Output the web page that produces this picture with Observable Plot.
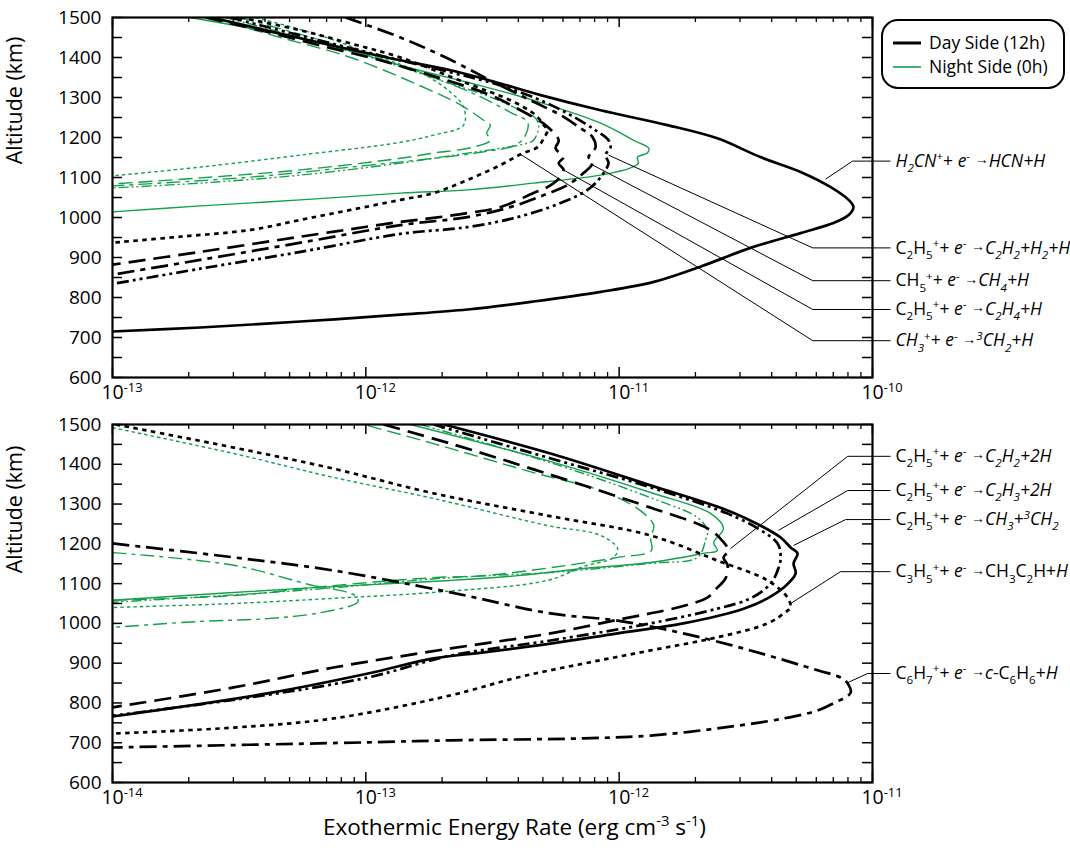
<!DOCTYPE html>
<html><head><meta charset="utf-8">
<script src="https://cdn.jsdelivr.net/npm/d3@7"></script>
<script src="https://cdn.jsdelivr.net/npm/@observablehq/plot@0.6"></script>
<style>
body{margin:0;background:#fff;}
#wrap{position:relative;width:1070px;height:852px;font-family:"Open Sans",sans-serif;}
#wrap svg{display:block;}
#wrap svg text{white-space:pre;}
#legend{position:absolute;left:881px;top:19px;width:184px;height:70px;border:2px solid #000;border-radius:17px;box-sizing:border-box;background:#fff;}
#legend .sw{position:absolute;left:10px;width:28px;}
#legend .lb{position:absolute;left:46px;font-size:17.5px;line-height:22px;color:#000;white-space:nowrap;}
</style></head><body><div id="wrap"></div>
<script>
// ---------- axes ----------
const topXDomain = [1e-13, 1e-10];
const botXDomain = [1e-14, 1e-11];
const altDomain = [600, 1500];
const altLabels = [600, 700, 800, 900, 1000, 1100, 1200, 1300, 1400, 1500];
const altTicks = [600,650,700,750,800,850,900,950,1000,1050,1100,1150,1200,1250,1300,1350,1400,1450,1500];
const topDecades = [1e-13, 1e-12, 1e-11, 1e-10];
const botDecades = [1e-14, 1e-13, 1e-12, 1e-11];
const minorMultipliers = [2, 3, 4, 5, 6, 7, 8, 9];
const legendLabels = ["Day Side (12h)", "Night Side (0h)"];
const yTitle = "Altitude (km)";
const xTitle = "Exothermic Energy Rate (erg cm^{-3} s^{-1})";

// ---------- top panel: day side (rate, altitude) ----------
const topDayH2CN = [[2.46e-13,1500],[5.52e-13,1448],[1.21e-12,1400],[2.16e-12,1368],[3.19e-12,1340],[4.90e-12,1306],[8.45e-12,1268],[1.55e-11,1231],[2.44e-11,1198],[3.61e-11,1151],[5.20e-11,1114],[6.84e-11,1076],[8.05e-11,1044],[8.41e-11,1026],[8.05e-11,1006],[7.01e-11,986],[5.20e-11,961],[3.30e-11,924],[2.09e-11,877],[1.37e-11,839],[8.45e-12,814],[4.59e-12,790],[2.52e-12,770],[1.37e-12,757],[5.52e-13,740],[2.22e-13,725],[1.0e-13,715]];
const topDayC2H2 = [[2.92e-13,1500],[5.52e-13,1455],[1.14e-12,1405],[2.16e-12,1363],[3.40e-12,1330],[4.90e-12,1293],[6.43e-12,1256],[8.07e-12,1218],[9.08e-12,1193],[9.25e-12,1176],[8.83e-12,1156],[9.08e-12,1136],[8.45e-12,1101],[7.50e-12,1069],[5.87e-12,1036],[3.97e-12,1001],[2.52e-12,976],[1.37e-12,959],[5.52e-13,914],[2.22e-13,872],[1.0e-13,834]];
const topDayCH4 = [[8.32e-13,1500],[1.37e-12,1450],[2.07e-12,1400],[3.10e-12,1343],[4.47e-12,1293],[5.87e-12,1256],[7.05e-12,1223],[7.85e-12,1201],[8.07e-12,1176],[7.57e-12,1151],[7.85e-12,1136],[7.23e-12,1111],[6.25e-12,1081],[5.04e-12,1056],[3.72e-12,1026],[2.52e-12,1001],[1.37e-12,981],[5.52e-13,937],[2.22e-13,894],[1.0e-13,857]];
const topDayC2H4 = [[2.33e-13,1500],[3.84e-13,1468],[6.62e-13,1430],[1.14e-12,1393],[1.97e-12,1348],[3.10e-12,1306],[4.08e-12,1268],[5.12e-12,1231],[5.77e-12,1193],[5.61e-12,1173],[6.03e-12,1151],[5.77e-12,1136],[6.03e-12,1119],[5.71e-12,1094],[5.21e-12,1076],[4.59e-12,1061],[3.40e-12,1026],[2.52e-12,1011],[1.85e-12,999],[1.37e-12,989],[5.52e-13,952],[2.22e-13,914],[1.0e-13,882]];
const topDayCH2 = [[3.20e-13,1500],[5.52e-13,1468],[8.71e-13,1435],[1.37e-12,1400],[2.52e-12,1335],[3.72e-12,1293],[4.68e-12,1256],[5.04e-12,1231],[5.21e-12,1218],[5.04e-12,1198],[4.76e-12,1176],[4.08e-12,1158],[3.40e-12,1131],[2.52e-12,1094],[1.85e-12,1061],[1.37e-12,1044],[8.71e-13,1019],[5.52e-13,994],[3.51e-13,969],[1.85e-13,952],[1.0e-13,937]];

// ---------- top panel: night side ----------
const topNightH2CN = [[2.03e-13,1500],[4.21e-13,1463],[8.55e-13,1418],[1.37e-12,1380],[2.52e-12,1338],[4.59e-12,1293],[8.45e-12,1236],[1.14e-11,1193],[1.31e-11,1173],[1.29e-11,1161],[1.18e-11,1151],[1.19e-11,1136],[1.11e-11,1124],[8.45e-12,1106],[4.59e-12,1086],[2.52e-12,1069],[1.37e-12,1061],[5.52e-13,1044],[2.22e-13,1029],[1.0e-13,1014]];
const topNightC2H2 = [[2.79e-13,1500],[5.52e-13,1450],[1.14e-12,1393],[1.97e-12,1343],[3.10e-12,1301],[4.08e-12,1268],[4.68e-12,1248],[4.81e-12,1226],[4.59e-12,1193],[4.35e-12,1186],[3.40e-12,1173],[2.52e-12,1161],[1.37e-12,1136],[5.52e-13,1106],[2.22e-13,1086],[1.0e-13,1074]];
const topNightCH4 = [[3.20e-13,1500],[6.62e-13,1443],[1.37e-12,1380],[2.59e-12,1313],[3.72e-12,1263],[4.35e-12,1238],[4.27e-12,1206],[3.90e-12,1181],[2.84e-12,1163],[1.85e-12,1148],[8.71e-13,1126],[3.51e-13,1101],[1.0e-13,1079]];
const topNightC2H4 = [[2.44e-13,1500],[4.60e-13,1450],[8.71e-13,1400],[1.63e-12,1330],[2.37e-12,1281],[2.92e-12,1243],[3.10e-12,1231],[3.00e-12,1211],[3.10e-12,1193],[2.66e-12,1176],[1.85e-12,1161],[1.37e-12,1148],[5.52e-13,1119],[2.22e-13,1099],[1.0e-13,1084]];
const topNightCH2 = [[3.67e-13,1500],[6.62e-13,1455],[1.14e-12,1400],[1.64e-12,1363],[2.16e-12,1313],[2.43e-12,1276],[2.43e-12,1231],[1.85e-12,1206],[1.37e-12,1188],[5.52e-13,1156],[2.22e-13,1126],[1.0e-13,1104]];

// ---------- bottom panel: day side ----------
const botDayC2H2 = [[1.175e-13,1500],[2.16e-13,1452],[5.04e-13,1379],[1.33e-12,1291],[2.23e-12,1239],[2.51e-12,1213],[2.70e-12,1183],[2.58e-12,1166],[2.68e-12,1146],[2.63e-12,1113],[2.44e-12,1090],[2.23e-12,1065],[1.70e-12,1040],[1.04e-12,1012],[5.36e-13,975],[2.16e-13,937],[7.45e-14,889],[3.01e-14,839],[1.0e-14,789]];
const botDayC2H3 = [[2.03e-13,1500],[5.36e-13,1427],[1.33e-12,1347],[2.68e-12,1284],[3.61e-12,1246],[4.34e-12,1216],[4.75e-12,1191],[5.06e-12,1176],[4.88e-12,1151],[4.97e-12,1125],[4.46e-12,1090],[3.85e-12,1063],[3.10e-12,1037],[1.79e-12,1000],[9.86e-13,975],[5.36e-13,949],[2.92e-13,927],[1.85e-13,912],[1.02e-13,874],[4.09e-14,824],[1.0e-14,766]];
const botDayCH3 = [[1.85e-13,1500],[5.21e-13,1417],[1.33e-12,1342],[2.68e-12,1276],[3.52e-12,1239],[4.22e-12,1201],[4.34e-12,1166],[4.26e-12,1140],[3.96e-12,1100],[3.30e-12,1063],[2.44e-12,1037],[1.33e-12,1000],[5.36e-13,957],[2.16e-13,919],[1.02e-13,864],[3.51e-14,814],[1.0e-14,768]];
const botDayC3H5 = [[1.03e-14,1500],[3.01e-14,1442],[7.45e-14,1389],[1.85e-13,1327],[5.21e-13,1271],[1.33e-12,1221],[2.44e-12,1158],[3.85e-12,1108],[4.62e-12,1065],[4.75e-12,1040],[4.62e-12,1032],[3.85e-12,1000],[2.44e-12,965],[1.33e-12,932],[7.23e-13,899],[3.97e-13,864],[2.16e-13,819],[7.45e-14,761],[3.01e-14,738],[1.0e-14,723]];
const botDayC6H7 = [[1.0e-14,1201],[3.01e-14,1166],[7.45e-14,1133],[2.16e-13,1078],[5.36e-13,1025],[9.86e-13,1007],[1.79e-12,975],[3.30e-12,932],[6.07e-12,882],[7.48e-12,864],[7.98e-12,849],[8.20e-12,826],[7.01e-12,799],[6.07e-12,781],[4.46e-12,761],[2.44e-12,736],[1.33e-12,718],[7.23e-13,711],[2.16e-13,706],[1.02e-13,701],[1.0e-14,688]];

// ---------- bottom panel: night side ----------
const botNightC2H2 = [[1.02e-13,1497],[1.85e-13,1452],[4.59e-13,1379],[8.45e-13,1334],[1.21e-12,1284],[1.37e-12,1246],[1.33e-12,1216],[1.34e-12,1183],[9.86e-13,1166],[5.36e-13,1140],[2.92e-13,1120],[1.85e-13,1115],[7.45e-14,1095],[3.01e-14,1070],[1.0e-14,1058]];
const botNightC2H3 = [[1.50e-13,1500],[5.21e-13,1409],[1.33e-12,1329],[2.30e-12,1276],[2.58e-12,1239],[2.36e-12,1203],[2.44e-12,1183],[2.15e-12,1176],[1.33e-12,1153],[7.23e-13,1138],[3.97e-13,1120],[2.16e-13,1108],[5.52e-14,1088],[1.0e-14,1058]];
const botNightCH3 = [[1.64e-13,1500],[5.36e-13,1404],[1.33e-12,1316],[2.04e-12,1266],[2.23e-12,1234],[2.19e-12,1208],[2.04e-12,1166],[1.33e-12,1151],[5.36e-13,1128],[2.16e-13,1115],[5.52e-14,1083],[1.0e-14,1053]];
const botNightC3H5 = [[1.0e-14,1492],[3.01e-14,1427],[7.45e-14,1367],[1.85e-13,1314],[5.21e-13,1246],[8.45e-13,1221],[9.86e-13,1188],[9.51e-13,1166],[7.23e-13,1143],[5.21e-13,1108],[1.85e-13,1078],[7.45e-14,1063],[3.01e-14,1050],[1.0e-14,1040]];
const botNightC6H7 = [[1.0e-14,1178],[3.01e-14,1146],[6.22e-14,1095],[8.47e-14,1078],[9.27e-14,1065],[9.27e-14,1053],[6.62e-14,1027],[4.09e-14,1012],[2.22e-14,1005],[1.0e-14,990]];

// ---------- annotations (markup: _{sub} ^{sup} *italic* !{small}) ----------
const topNoteText = [
  "*H_{2}CN*^{+}+ *e*^{-} !{→}*HCN+H*",
  "C_{2}H_{5}^{+}+ *e*^{-} !{→}*C_{2}H_{2}+H_{2}+H*",
  "CH_{5}^{+}+ *e*^{-} !{→}*CH_{4}+H*",
  "C_{2}H_{5}^{+}+ *e*^{-} !{→}*C_{2}H_{4}+H*",
  "*CH_{3}*^{+}+ *e*^{-} !{→}*^{3}CH_{2}+H*"
];
const topNoteAlt = [1141, 924, 842, 770, 692];
const topNoteElbowRate = [8.34e-11, 5.81e-11, 5.81e-11, 5.81e-11, 5.81e-11];
const topNoteCurve = [[6.53e-11,1096],[9.08e-12,1156],[7.71e-12,1134],[6.03e-12,1119],[4.08e-12,1158]];

const botNoteText = [
  "C_{2}H_{5}^{+}+ *e*^{-} !{→}*C_{2}H_{2}+2H*",
  "C_{2}H_{5}^{+}+ *e*^{-} !{→}*C_{2}H_{3}+2H*",
  "C_{2}H_{5}^{+}+ *e*^{-} !{→}*CH_{3}+^{3}CH_{2}*",
  "C_{3}H_{5}^{+}+ *e*^{-} !{→}CH_{3}C_{2}H+*H*",
  "C_{6}H_{7}^{+}+ *e*^{-} !{→}*c*-C_{6}H_{6}+*H*"
];
const botNoteAlt = [1420, 1334, 1261, 1130, 874];
const botNoteElbowRate = [7.98e-12, 7.98e-12, 7.83e-12, 7.48e-12, 9.57e-12];
const botNoteCurve = [[2.75e-12,1188],[4.26e-12,1234],[4.88e-12,1196],[4.75e-12,1050],[7.98e-12,851]];

// ---------- styles ----------
const DAY = "#000000", NIGHT = "#13a04b";
const dayDash = {solid: null, dot: "4.5,4.5", long: "17,8", dashdot: "17,6,5,6", dashdotdot: "12,4,3,4,3,4"};
const nightDash = {solid: null, dot: "3.5,3", long: "14,6", dashdot: "14,5,4,5", dashdotdot: "10,3,2,3,2,3"};

const topSeries = [
  {day: topDayH2CN, night: topNightH2CN, dash: "solid"},
  {day: topDayC2H2, night: topNightC2H2, dash: "dashdotdot"},
  {day: topDayCH4, night: topNightCH4, dash: "dashdot"},
  {day: topDayC2H4, night: topNightC2H4, dash: "long"},
  {day: topDayCH2, night: topNightCH2, dash: "dot"}
];
const botSeries = [
  {day: botDayC2H2, night: botNightC2H2, dash: "long"},
  {day: botDayC2H3, night: botNightC2H3, dash: "solid"},
  {day: botDayCH3, night: botNightCH3, dash: "dashdotdot"},
  {day: botDayC3H5, night: botNightC3H5, dash: "dot"},
  {day: botDayC6H7, night: botNightC6H7, dash: "dashdot"}
];

function curveMark(pts, color, w, dash) {
  const o = {x: d => d[0], y: d => d[1], stroke: color, strokeWidth: w, curve: "catmull-rom", clip: true, strokeLinecap: "butt", strokeLinejoin: "round"};
  if (dash) o.strokeDasharray = dash;
  return Plot.line(pts, o);
}

function panel({xDomain, decades, series, noteText, noteAlt, noteElbow, noteCurve, height, marginTop, marginBottom, yLabelDy, withTitle}) {
  const fw = 760, fh = height - marginTop - marginBottom;
  const minors = [];
  for (const d of decades.slice(0, -1)) for (const m of minorMultipliers) minors.push(d * m);
  const labelRate = xDomain[1] * 1.178;
  const idx = noteText.map((_, i) => i);
  const marks = [];
  for (const s of series) marks.push(curveMark(s.night, NIGHT, 1.4, nightDash[s.dash]));
  for (const s of series) marks.push(curveMark(s.day, DAY, 2.7, dayDash[s.dash]));
  marks.push(
    Plot.link(idx, {x1: i => noteCurve[i][0], y1: i => noteCurve[i][1], x2: i => noteElbow[i], y2: i => noteAlt[i], stroke: "black", strokeWidth: 1}),
    Plot.link(idx, {x1: i => noteElbow[i], y1: i => noteAlt[i], x2: () => labelRate, y2: i => noteAlt[i], stroke: "black", strokeWidth: 1}),
    Plot.text(idx, {x: () => labelRate, y: i => noteAlt[i], text: i => noteText[i], textAnchor: "start", dx: 5, fontSize: 17.5, fill: "black"}),
    // inward ticks
    Plot.ruleX(decades, {x: d => d, insetTop: fh - 10, stroke: "black", strokeWidth: 1.5}),
    Plot.ruleX(decades, {x: d => d, insetBottom: fh - 10, stroke: "black", strokeWidth: 1.5}),
    Plot.ruleX(minors, {x: d => d, insetTop: fh - 5, stroke: "black", strokeWidth: 1.3}),
    Plot.ruleX(minors, {x: d => d, insetBottom: fh - 5, stroke: "black", strokeWidth: 1.3}),
    Plot.ruleY(altTicks, {y: d => d, insetRight: fw - 10, stroke: "black", strokeWidth: 1.5}),
    Plot.ruleY(altTicks, {y: d => d, insetLeft: fw - 10, stroke: "black", strokeWidth: 1.5}),
    Plot.frame({stroke: "black", strokeWidth: 2.2}),
    Plot.axisY(altLabels, {tickSize: 0, tickPadding: 11, label: null, fontSize: 19, tickFormat: d => String(d)}),
    Plot.axisX(decades, {tickSize: 0, tickPadding: 8, label: null, fontSize: 19.5, tickFormat: d => "10^{" + Math.round(Math.log10(d)) + "}"}),
    Plot.text([yTitle], {frameAnchor: "left", rotate: -90, textAnchor: "middle", dx: -97, dy: yLabelDy, fontSize: 21.5, fill: "black"})
  );
  if (withTitle) marks.push(Plot.text([xTitle], {frameAnchor: "bottom", dy: 52, dx: 22, fontSize: 22.5, fill: "black"}));
  return Plot.plot({
    width: 1070, height, marginTop, marginBottom, marginLeft: 112, marginRight: 198,
    x: {type: "log", domain: xDomain}, y: {domain: altDomain},
    style: {fontFamily: "'Open Sans', sans-serif", color: "black", background: "white", overflow: "visible"},
    marks
  });
}

const wrap = document.getElementById("wrap");
wrap.appendChild(panel({xDomain: topXDomain, decades: topDecades, series: topSeries, noteText: topNoteText, noteAlt: topNoteAlt, noteElbow: topNoteElbowRate, noteCurve: topNoteCurve, height: 405, marginTop: 17, marginBottom: 28, yLabelDy: -97, withTitle: false}));
wrap.appendChild(panel({xDomain: botXDomain, decades: botDecades, series: botSeries, noteText: botNoteText, noteAlt: botNoteAlt, noteElbow: botNoteElbowRate, noteCurve: botNoteCurve, height: 447, marginTop: 19, marginBottom: 70, yLabelDy: -94, withTitle: true}));

// legend
const lg = document.createElement("div");
lg.id = "legend";
lg.innerHTML = legendLabels.map((t, i) => {
  const y = i === 0 ? 22 : 46;
  const col = i === 0 ? DAY : NIGHT, w = i === 0 ? 3 : 1.6;
  return `<svg class="sw" style="top:${y - 3}px" width="28" height="6"><line x1="0" x2="28" y1="3" y2="3" stroke="${col}" stroke-width="${w}"/></svg><div class="lb" style="top:${y - 12}px">${t}</div>`;
}).join("");
wrap.appendChild(lg);

// rich text (sub/superscripts, italics)
const ns = "http://www.w3.org/2000/svg";
function richify(el, src) {
  const base = parseFloat(getComputedStyle(el).fontSize) || 16;
  while (el.firstChild) el.removeChild(el.firstChild);
  let italic = false, cur = 0, i = 0;
  const add = (s, mode) => {
    if (!s) return;
    const t = document.createElementNS(ns, "tspan");
    t.textContent = s;
    const target = mode === "_" ? 0.3 * base : mode === "^" ? -0.38 * base : mode === "!" ? -0.15 * base : 0;
    if (target !== cur) { t.setAttribute("dy", (target - cur).toFixed(2)); cur = target; }
    if (mode === "_" || mode === "^") t.setAttribute("font-size", (0.66 * base).toFixed(1));
    if (mode === "!") t.setAttribute("font-size", (0.8 * base).toFixed(1));
    if (italic) t.setAttribute("font-style", "italic");
    el.appendChild(t);
  };
  const special = j => src[j] === "*" || ((src[j] === "_" || src[j] === "^" || src[j] === "!") && src[j + 1] === "{");
  while (i < src.length) {
    const c = src[i];
    if (c === "*") { italic = !italic; i++; continue; }
    if (special(i)) { const j = src.indexOf("}", i); add(src.slice(i + 2, j), c); i = j + 1; continue; }
    let j = i; while (j < src.length && !special(j)) j++;
    add(src.slice(i, j), null); i = j;
  }
}
wrap.querySelectorAll("svg text").forEach(t => {
  const s = t.textContent;
  if (/[_^!]\{|\*/.test(s)) {
    richify(t, s);
    if (s.startsWith("10^{")) {
      t.setAttribute("text-anchor", "start");
      const base = parseFloat(getComputedStyle(t).fontSize) || 19;
      t.firstChild.setAttribute("dx", (-0.57 * base).toFixed(2));
    }
  }
});
</script></body></html>
